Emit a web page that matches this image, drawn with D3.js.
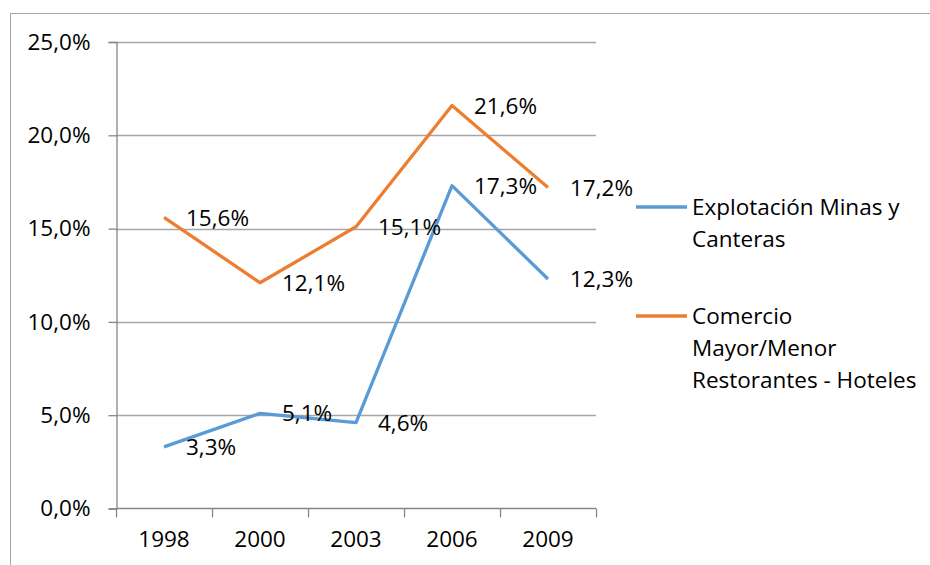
<!DOCTYPE html>
<html><head><meta charset="utf-8">
<script src="https://cdn.jsdelivr.net/npm/d3@7"></script>
<style>body{margin:0;background:#fff;}svg{display:block;font-family:"Open Sans",Lato,sans-serif;}</style>
</head><body>
<svg id="c" width="930" height="565"></svg>
<script>
const years = ["1998","2000","2003","2006","2009"];
const minas = [3.3, 5.1, 4.6, 17.3, 12.3];
const comercio = [15.6, 12.1, 15.1, 21.6, 17.2];
const yTicks = [0, 5, 10, 15, 20, 25];
const seriesNames = [["Explotación Minas y", "Canteras"], ["Comercio", "Mayor/Menor", "Restorantes - Hoteles"]];
const colors = ["#5B9BD5", "#ED7D31"];

const svg = d3.select("#c");
const fs = 22.5;
const ff = "'Open Sans',Lato,sans-serif";
svg.append("rect").attr("x",10.5).attr("y",13.5).attr("width",960).attr("height",600)
  .attr("fill","none").attr("stroke","#a6a6a6").attr("stroke-width",1);

const x = d3.scaleBand().domain(years).range([116, 596]);
const y = d3.scaleLinear().domain([0,25]).range([508.5, 42]);
const fmt = v => v.toFixed(1).replace(".", ",") + "%";

// gridlines
svg.append("g").selectAll("line").data(yTicks.filter(d=>d>0)).join("line")
  .attr("x1",116).attr("x2",596).attr("y1",d=>Math.round(y(d))+0.5).attr("y2",d=>Math.round(y(d))+0.5)
  .attr("stroke","#a6a6a6").attr("stroke-width",1.3);

const yAxis = svg.append("g").attr("transform","translate(116.5,0)")
  .call(d3.axisLeft(y).tickValues(yTicks).tickSize(8).tickPadding(18).tickFormat(fmt));
yAxis.select(".domain").attr("stroke","#868686").attr("stroke-width",1.3);
yAxis.selectAll(".tick line").attr("stroke","#868686").attr("stroke-width",1.3);
yAxis.selectAll("text").attr("font-size",fs).attr("fill","#000").attr("font-family",ff);

const xAxis = svg.append("g").attr("transform","translate(0,508.5)")
  .call(d3.axisBottom(x).tickSize(0).tickPadding(23));
xAxis.select(".domain").attr("stroke","#868686").attr("stroke-width",1.3).attr("d","M116,0H596");
xAxis.selectAll("text").attr("font-size",fs).attr("fill","#000").attr("font-family",ff);
// category boundary ticks
const bounds = years.map(d=>x(d)).concat([x.range()[1]]);
svg.append("g").selectAll("line").data(bounds).join("line")
  .attr("x1",d=>Math.round(d)+0.5).attr("x2",d=>Math.round(d)+0.5).attr("y1",508.5).attr("y2",517.5)
  .attr("stroke","#868686").attr("stroke-width",1.3);

const cx = d => x(d) + x.bandwidth()/2;
[minas, comercio].forEach((vals, i) => {
  const pts = vals.map((v, j) => [cx(years[j]), y(v)]);
  svg.append("path").attr("d", d3.line()(pts)).attr("fill","none")
    .attr("stroke", colors[i]).attr("stroke-width",3.3).attr("stroke-linejoin","round");
});
[minas, comercio].forEach((vals) => {
  svg.append("g").selectAll("text").data(vals).join("text")
    .attr("x",(v,j)=>cx(years[j])+22).attr("y",v=>y(v)).attr("dy","0.36em")
    .attr("font-size",fs).attr("fill","#000").text(fmt);
});

// legend
const leg = [{y:207, lines:seriesNames[0]}, {y:316, lines:seriesNames[1]}];
leg.forEach((l, i) => {
  svg.append("line").attr("x1",636).attr("x2",687).attr("y1",l.y).attr("y2",l.y)
    .attr("stroke",colors[i]).attr("stroke-width",3.3);
  l.lines.forEach((t, k) => {
    svg.append("text").attr("x",692).attr("y",l.y + k*32).attr("dy","0.36em")
      .attr("font-size",fs).attr("fill","#000").text(t);
  });
});
</script>
</body></html>
